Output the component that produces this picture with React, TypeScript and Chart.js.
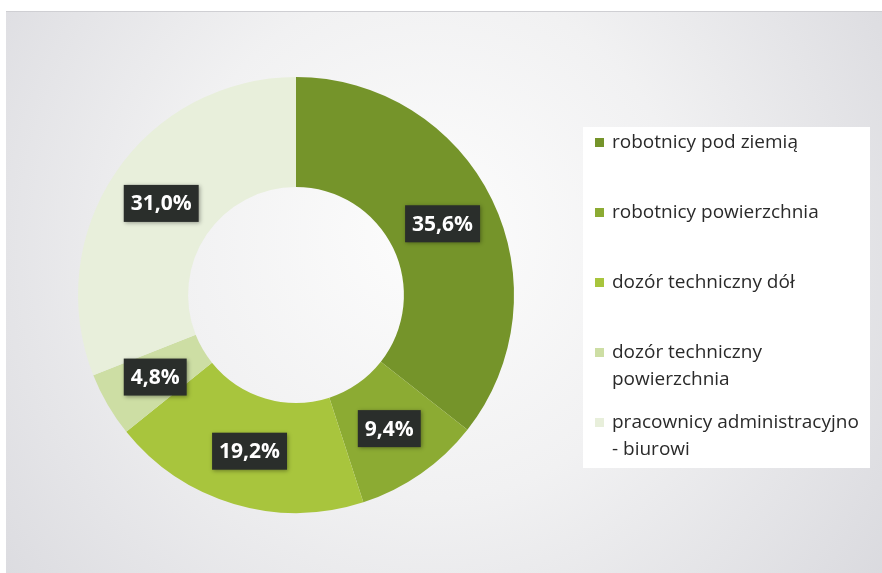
import React, { useEffect, useRef } from "react";
import { Chart, registerables } from "chart.js";

Chart.register(...registerables);

const categories = [
  "robotnicy pod ziemią",
  "robotnicy powierzchnia",
  "dozór techniczny dół",
  "dozór techniczny powierzchnia",
  "pracownicy administracyjno - biurowi",
];
const legendLines = [
  ["robotnicy pod ziemią"],
  ["robotnicy powierzchnia"],
  ["dozór techniczny dół"],
  ["dozór techniczny", "powierzchnia"],
  ["pracownicy administracyjno", "- biurowi"],
];
const shares = [35.6, 9.4, 19.2, 4.8, 31.0];
const sliceColors = ["#75942a", "#8cab33", "#a8c53d", "#cddea4", "#e8efdb"];

const fmt = (v: number) => v.toFixed(1).replace(".", ",") + "%";

const backgroundPlugin = {
  id: "bgPanel",
  beforeDraw(chart: any) {
    const { ctx, width, height } = chart;
    ctx.save();
    ctx.fillStyle = "#ffffff";
    ctx.fillRect(0, 0, width, height);
    const g = ctx.createRadialGradient(430, 230, 40, 430, 260, 580);
    g.addColorStop(0, "#fbfbfb");
    g.addColorStop(0.4, "#f1f1f2");
    g.addColorStop(1, "#d8d8dd");
    ctx.fillStyle = g;
    ctx.fillRect(6, 11, width - 6, height - 11);
    ctx.strokeStyle = "#cfcfd3";
    ctx.lineWidth = 1;
    ctx.beginPath();
    ctx.moveTo(6, 11.5);
    ctx.lineTo(width, 11.5);
    ctx.stroke();
    // legend panel
    ctx.fillStyle = "#ffffff";
    ctx.fillRect(583, 127, 287, 341);
    ctx.restore();
  },
};

const labelPlugin = {
  id: "boxLabels",
  afterDatasetsDraw(chart: any) {
    const { ctx } = chart;
    const meta = chart.getDatasetMeta(0);
    ctx.save();
    ctx.font = "bold 21px 'Open Sans', 'Noto Sans', sans-serif";
    ctx.textAlign = "center";
    ctx.textBaseline = "middle";
    meta.data.forEach((arc: any, i: number) => {
      const p = arc.tooltipPosition();
      const text = fmt(shares[i]);
      const w = ctx.measureText(text).width + 14;
      const h = 37;
      ctx.shadowColor = "rgba(0,0,0,0.35)";
      ctx.shadowBlur = 4;
      ctx.shadowOffsetX = 1;
      ctx.shadowOffsetY = 1;
      ctx.fillStyle = "#2a2e2b";
      ctx.fillRect(p.x - w / 2, p.y - h / 2, w, h);
      ctx.shadowColor = "transparent";
      ctx.fillStyle = "#ffffff";
      ctx.fillText(text, p.x, p.y + 1);
    });
    ctx.restore();
  },
};

const legendPlugin = {
  id: "sideLegend",
  afterDraw(chart: any) {
    const { ctx } = chart;
    ctx.save();
    ctx.font = "19px 'Open Sans', 'Noto Sans', sans-serif";
    ctx.textBaseline = "middle";
    ctx.textAlign = "left";
    categories.forEach((_, i) => {
      const y0 = 143 + i * 70;
      ctx.fillStyle = sliceColors[i];
      ctx.fillRect(595, y0 - 5, 9, 9);
      ctx.fillStyle = "#2a2a2a";
      legendLines[i].forEach((line, j) => {
        ctx.fillText(line, 612, y0 + j * 27);
      });
    });
    ctx.restore();
  },
};

export default function App() {
  const ref = useRef<HTMLCanvasElement | null>(null);
  useEffect(() => {
    document.body.style.margin = "0";
    const canvas = ref.current;
    if (!canvas) return;
    const chart = new Chart(canvas, {
      type: "doughnut",
      data: {
        labels: categories,
        datasets: [
          {
            data: shares,
            backgroundColor: sliceColors,
            borderWidth: 0,
            hoverOffset: 0,
          },
        ],
      },
      options: {
        animation: false,
        responsive: false,
        cutout: "49.5%",
        layout: { padding: { left: 78, right: 368, top: 77, bottom: 60 } },
        plugins: {
          legend: { display: false },
          tooltip: { enabled: false },
        },
        events: [],
      },
      plugins: [backgroundPlugin, labelPlugin, legendPlugin],
    });
    return () => chart.destroy();
  }, []);
  return (
    <div style={{ width: 882, height: 573 }}>
      <canvas ref={ref} width={882} height={573} style={{ display: "block" }} />
    </div>
  );
}
